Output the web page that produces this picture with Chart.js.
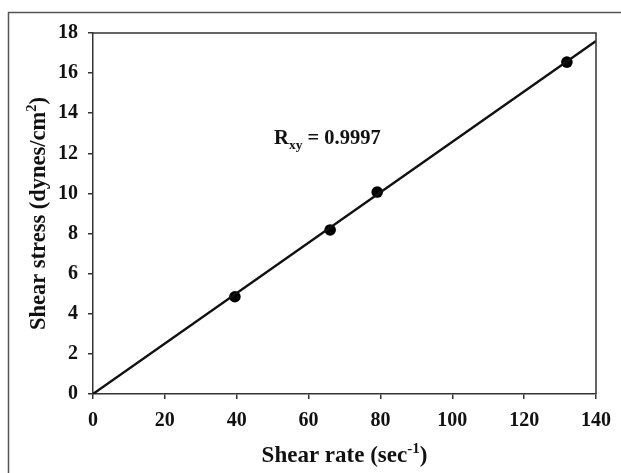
<!DOCTYPE html>
<html><head><meta charset="utf-8">
<script src="https://cdn.jsdelivr.net/npm/chart.js@4/dist/chart.umd.min.js"></script>
<style>html,body{margin:0;padding:0;background:#fff;} #wrap{width:621px;height:473px;position:relative;}</style>
</head><body><div id="wrap"><canvas id="c" width="621" height="473"></canvas></div>
<script>
// ---- data ----
const shearRate = [39.5, 66.0, 79.1, 131.9];       // sec^-1
const shearStress = [4.85, 8.18, 10.07, 16.55];    // dynes/cm^2
const fitRate = [0, 140];
const fitStress = [0, 17.6];
const xTickValues = [0, 20, 40, 60, 80, 100, 120, 140];
const yTickValues = [0, 2, 4, 6, 8, 10, 12, 14, 16, 18];
const xTitleParts = ['Shear rate (sec', '-1', ')'];
const yTitleParts = ['Shear stress (dynes/cm', '2', ')'];
const annotationParts = ['R', 'xy', ' = 0.9997'];
const annotationAt = [50.4, 12.46];

const FONT = '"Liberation Serif", "Times New Roman", serif';
const INK = '#111';
const AXIS = '#333';

function richText(ctx, segs, x, y, align) {
  let total = 0;
  segs.forEach(s => { ctx.font = 'bold ' + s.size + 'px ' + FONT; s.w = ctx.measureText(s.t).width; total += s.w; });
  let cx = align === 'center' ? x - total / 2 : x;
  ctx.textBaseline = 'alphabetic';
  ctx.textAlign = 'left';
  segs.forEach(s => {
    ctx.font = 'bold ' + s.size + 'px ' + FONT;
    ctx.fillText(s.t, cx, y + s.dy);
    cx += s.w;
  });
}

const deco = {
  id: 'deco',
  afterDraw(chart) {
    const ctx = chart.ctx, a = chart.chartArea, xs = chart.scales.x, ys = chart.scales.y;
    ctx.save();
    // outer frame (partially cropped)
    ctx.strokeStyle = '#555'; ctx.lineWidth = 1.5;
    ctx.beginPath(); ctx.moveTo(8.5, 473); ctx.lineTo(8.5, 12.5); ctx.lineTo(621, 12.5); ctx.stroke();
    // plot box top/right
    ctx.strokeStyle = AXIS; ctx.lineWidth = 1.5;
    ctx.beginPath(); ctx.moveTo(a.left, a.top); ctx.lineTo(a.right, a.top); ctx.lineTo(a.right, a.bottom); ctx.stroke();
    ctx.fillStyle = INK;
    // x title
    richText(ctx, [
      {t: xTitleParts[0], size: 23, dy: 0},
      {t: xTitleParts[1], size: 15, dy: -9},
      {t: xTitleParts[2], size: 23, dy: 0}
    ], (a.left + a.right) / 2, 462, 'center');
    // y title
    ctx.save();
    ctx.translate(45, (a.top + a.bottom) / 2);
    ctx.rotate(-Math.PI / 2);
    richText(ctx, [
      {t: yTitleParts[0], size: 22.5, dy: 0},
      {t: yTitleParts[1], size: 14.5, dy: -9},
      {t: yTitleParts[2], size: 22.5, dy: 0}
    ], 0, 0, 'center');
    ctx.restore();
    // annotation
    richText(ctx, [
      {t: annotationParts[0], size: 20.5, dy: 0},
      {t: annotationParts[1], size: 13.5, dy: 5},
      {t: annotationParts[2], size: 20.5, dy: 0}
    ], xs.getPixelForValue(annotationAt[0]), ys.getPixelForValue(annotationAt[1]), 'left');
    ctx.restore();
  }
};

const tickFont = {family: FONT, size: 20, weight: 'bold'};

new Chart(document.getElementById('c'), {
  type: 'scatter',
  data: {
    datasets: [
      {
        data: fitRate.map((x, i) => ({x, y: fitStress[i]})),
        showLine: true, borderColor: INK, borderWidth: 2.3, pointRadius: 0, fill: false
      },
      {
        data: shearRate.map((x, i) => ({x, y: shearStress[i]})),
        showLine: false, pointRadius: 5.8, pointBackgroundColor: '#000', pointBorderColor: '#000', pointBorderWidth: 0
      }
    ]
  },
  options: {
    responsive: false, animation: false,
    layout: {padding: {left: 0, top: 33, right: 25, bottom: 0}},
    plugins: {legend: {display: false}, tooltip: {enabled: false}},
    scales: {
      x: {
        type: 'linear', min: 0, max: 140,
        afterBuildTicks: s => { s.ticks = xTickValues.map(v => ({value: v})); },
        afterFit: s => { s.height = 79; },
        grid: {drawOnChartArea: false, drawTicks: true, tickLength: 5, color: AXIS, lineWidth: 1.5},
        border: {display: true, color: AXIS, width: 1.5},
        ticks: {font: tickFont, color: INK, padding: 10, maxRotation: 0}
      },
      y: {
        type: 'linear', min: 0, max: 18,
        afterBuildTicks: s => { s.ticks = yTickValues.map(v => ({value: v})); },
        afterFit: s => { s.width = 93; },
        grid: {drawOnChartArea: false, drawTicks: true, tickLength: 5, color: AXIS, lineWidth: 1.5},
        border: {display: true, color: AXIS, width: 1.5},
        ticks: {font: tickFont, color: INK, padding: 10}
      }
    }
  },
  plugins: [deco]
});
</script></body></html>
